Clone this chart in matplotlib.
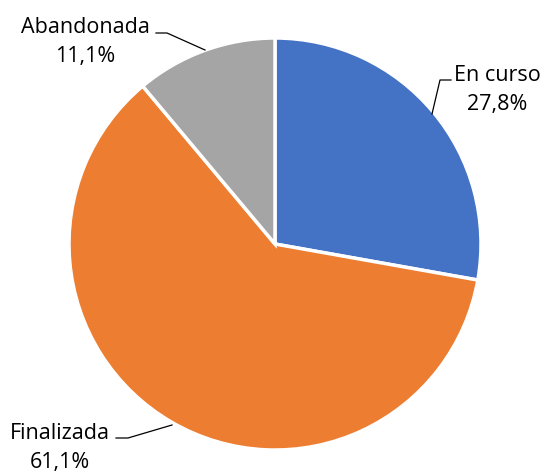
import matplotlib
matplotlib.use("Agg")
import matplotlib.pyplot as plt

# estado de las tareas
categories = ["En curso", "Finalizada", "Abandonada"]
values = [27.8, 61.1, 11.1]
colors = ["#4472C4", "#ED7D31", "#A5A5A5"]

W, H = 544, 473
fig = plt.figure(figsize=(W / 100, H / 100), dpi=100)
ax = fig.add_axes([0, 0, 1, 1])
ax.set_xlim(0, W)
ax.set_ylim(0, H)
ax.set_aspect("equal")
ax.axis("off")

cx, cy, r = 275, H - 244, 206
ax.pie(values, colors=colors, startangle=90, counterclock=False,
       center=(cx, cy), radius=r, frame=True,
       wedgeprops=dict(edgecolor="white", linewidth=2.5))
ax.set_xlim(0, W)
ax.set_ylim(0, H)
ax.axis("off")

# etiquetas con lineas guia (posiciones en pixeles)
label_pos = {
    "En curso": (497, H - 90),
    "Finalizada": (60, H - 448),
    "Abandonada": (85, H - 42),
}
leaders = {
    "En curso": [(451, 80), (440, 80), (432, 114)],
    "Finalizada": [(116, 438), (128, 438), (172, 425)],
    "Abandonada": [(156, 33), (167, 33), (205, 50)],
}
for name, val in zip(categories, values):
    x, y = label_pos[name]
    txt = name + "\n" + f"{val:.1f}".replace(".", ",") + "%"
    ax.text(x, y, txt, ha="center", va="center", fontsize=15.5,
            family="Open Sans", color="black", linespacing=1.5)
    pts = leaders[name]
    ax.plot([p[0] for p in pts], [H - p[1] for p in pts],
            color="black", linewidth=0.9)

fig.savefig("out.png", dpi=100)
